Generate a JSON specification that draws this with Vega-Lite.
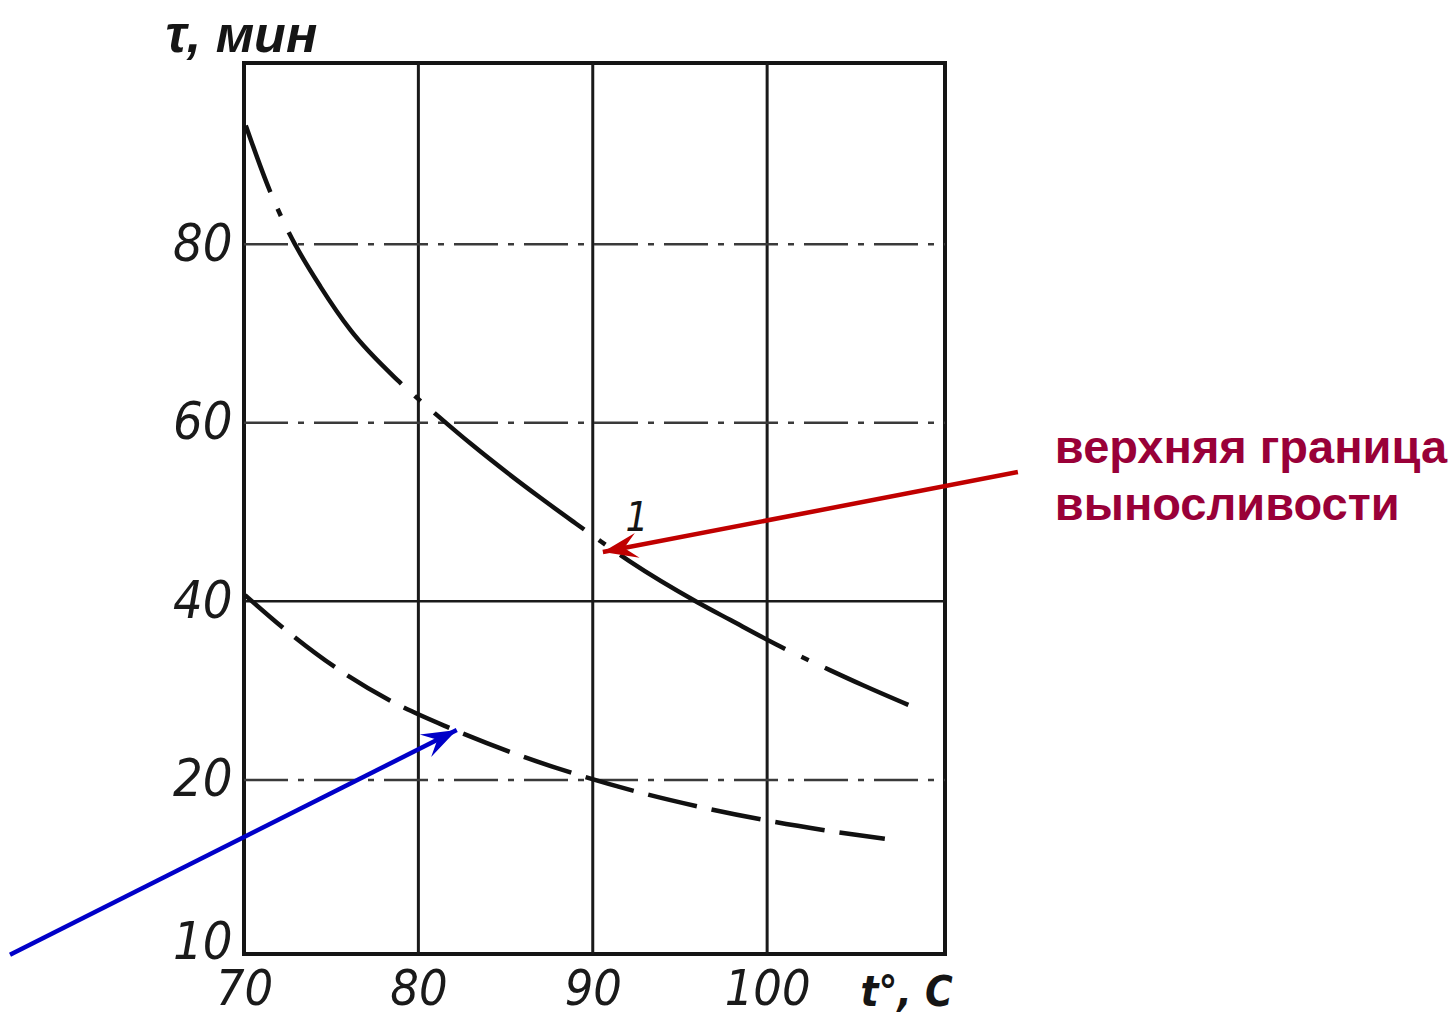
{
  "$schema": "https://vega.github.io/schema/vega-lite/v6.json",
  "width": 701,
  "height": 891,
  "autosize": {"type": "none"},
  "padding": {"left": 244, "top": 63, "right": 511, "bottom": 64},
  "background": "white",
  "config": {
    "view": {"stroke": "#151515", "strokeWidth": 4},
    "font": "DejaVu Sans Condensed, Liberation Sans, sans-serif"
  },
  "datasets": {
    "upper": [
      {"t": 70.1, "tau": 93.3},
      {"t": 71.5, "tau": 85.9},
      {"t": 72.6, "tau": 81.2},
      {"t": 74.4, "tau": 75.2},
      {"t": 76.1, "tau": 70.4},
      {"t": 78.9, "tau": 64.6},
      {"t": 81.1, "tau": 60.8},
      {"t": 83.1, "tau": 57.5},
      {"t": 85.1, "tau": 54.4},
      {"t": 87.0, "tau": 51.6},
      {"t": 88.9, "tau": 48.9},
      {"t": 90.4, "tau": 46.8},
      {"t": 92.1, "tau": 44.5},
      {"t": 96.0, "tau": 39.9},
      {"t": 97.9, "tau": 37.9},
      {"t": 100.7, "tau": 35.0},
      {"t": 103.6, "tau": 32.3},
      {"t": 105.5, "tau": 30.6},
      {"t": 108.1, "tau": 28.4}
    ],
    "lower": [
      {"t": 70.06, "tau": 40.7},
      {"t": 72.45, "tau": 36.7},
      {"t": 75.32, "tau": 32.5},
      {"t": 78.56, "tau": 28.7},
      {"t": 81.81, "tau": 25.8},
      {"t": 85.44, "tau": 23.0},
      {"t": 89.27, "tau": 20.5},
      {"t": 92.88, "tau": 18.5},
      {"t": 96.32, "tau": 16.9},
      {"t": 99.87, "tau": 15.5},
      {"t": 103.2, "tau": 14.4},
      {"t": 106.75, "tau": 13.4}
    ],
    "gridV": [{"t": 80}, {"t": 90}, {"t": 100}],
    "gridDashDot": [{"tau": 20}, {"tau": 60}, {"tau": 80}],
    "gridSolid": [{"tau": 40}],
    "redArrow": [{"t": 114.38, "tau": 54.48, "t2": 90.58, "tau2": 45.52}],
    "blueArrow": [{"t": 56.58, "tau": 0.41, "t2": 82.2, "tau2": 25.59}],
    "note": [
      {"t": 116.5, "tau": 55.5, "text": "верхняя граница"},
      {"t": 116.5, "tau": 49.1, "text": "выносливости"}
    ],
    "curveLabel": [{"t": 92.53, "tau": 49.2, "text": "1"}]
  },
  "layer": [
    {
      "data": {"name": "gridV"},
      "mark": {"type": "rule", "color": "#1a1a1a", "strokeWidth": 3},
      "encoding": {
        "x": {
          "field": "t",
          "type": "quantitative",
          "scale": {"domain": [70, 110.2], "nice": false, "zero": false},
          "axis": {
            "values": [70, 80, 90, 100],
            "title": "t°, C",
            "titleAngle": 0,
            "titleAlign": "left",
            "titleBaseline": "middle",
            "titleX": 616,
            "titleY": 38,
            "titleFont": "DejaVu Sans Condensed, Liberation Sans, sans-serif",
            "titleFontSize": 42,
            "titleFontStyle": "italic",
            "titleFontWeight": "bold",
            "titleColor": "#151515",
            "labelFont": "DejaVu Sans Condensed, Liberation Sans, sans-serif",
            "labelFontSize": 50,
            "labelFontStyle": "italic",
            "labelColor": "#1a1a1a",
            "labelPadding": 10,
            "labelFlush": false,
            "labelOverlap": false,
            "ticks": false,
            "domain": false,
            "grid": false
          }
        },
        "y": {"value": 0},
        "y2": {"value": 891}
      }
    },
    {
      "data": {"name": "gridDashDot"},
      "mark": {"type": "rule", "color": "#3a3a3a", "strokeWidth": 2.5, "strokeDash": [44, 10, 6, 10]},
      "encoding": {
        "y": {
          "field": "tau",
          "type": "quantitative",
          "scale": {"domain": [0.5, 100.3], "nice": false, "zero": false},
          "axis": {
            "values": [1.75, 20, 40, 60, 80],
            "labelExpr": "datum.value < 10 ? '10' : datum.label",
            "title": "τ, мин",
            "titleAngle": 0,
            "titleAlign": "left",
            "titleBaseline": "middle",
            "titleX": -79,
            "titleY": -28,
            "titleFont": "Liberation Sans",
            "titleFontSize": 52,
            "titleFontStyle": "italic",
            "titleFontWeight": "bold",
            "titleColor": "#151515",
            "labelFont": "DejaVu Sans Condensed, Liberation Sans, sans-serif",
            "labelFontSize": 52,
            "labelFontStyle": "italic",
            "labelColor": "#1a1a1a",
            "labelPadding": 12,
            "labelFlush": false,
            "labelOverlap": false,
            "ticks": false,
            "domain": false,
            "grid": false
          }
        },
        "x": {"value": 0},
        "x2": {"value": 701}
      }
    },
    {
      "data": {"name": "gridSolid"},
      "mark": {"type": "rule", "color": "#1a1a1a", "strokeWidth": 2.5},
      "encoding": {
        "y": {"field": "tau", "type": "quantitative"},
        "x": {"value": 0},
        "x2": {"value": 701}
      }
    },
    {
      "data": {"name": "upper"},
      "mark": {"type": "line", "color": "#111111", "strokeWidth": 4.5, "interpolate": "monotone", "strokeDash": [190, 18, 8, 18], "strokeDashOffset": 119, "strokeCap": "butt"},
      "encoding": {
        "x": {"field": "t", "type": "quantitative"},
        "y": {"field": "tau", "type": "quantitative"}
      }
    },
    {
      "data": {"name": "lower"},
      "mark": {"type": "line", "color": "#111111", "strokeWidth": 4.5, "interpolate": "monotone", "strokeDash": [50, 15], "strokeCap": "butt"},
      "encoding": {
        "x": {"field": "t", "type": "quantitative"},
        "y": {"field": "tau", "type": "quantitative"}
      }
    },
    {
      "data": {"name": "curveLabel"},
      "mark": {"type": "text", "font": "DejaVu Sans Condensed, Liberation Sans, sans-serif", "fontStyle": "italic", "fontSize": 40, "color": "#151515", "align": "center", "baseline": "middle"},
      "encoding": {
        "x": {"field": "t", "type": "quantitative"},
        "y": {"field": "tau", "type": "quantitative"},
        "text": {"field": "text"}
      }
    },
    {
      "data": {"name": "redArrow"},
      "mark": {"type": "rule", "color": "#c00000", "strokeWidth": 4.5, "clip": false},
      "encoding": {
        "x": {"field": "t", "type": "quantitative"},
        "y": {"field": "tau", "type": "quantitative"},
        "x2": {"field": "t2"},
        "y2": {"field": "tau2"}
      }
    },
    {
      "data": {"name": "redArrow"},
      "mark": {"type": "point", "shape": "M0,0 L-1,-0.36 L-0.62,0 L-1,0.36 Z", "size": 4900, "filled": true, "color": "#c00000", "opacity": 1, "angle": 169.1, "strokeWidth": 0, "clip": false},
      "encoding": {
        "x": {"field": "t2", "type": "quantitative"},
        "y": {"field": "tau2", "type": "quantitative"}
      }
    },
    {
      "data": {"name": "blueArrow"},
      "mark": {"type": "rule", "color": "#0000c8", "strokeWidth": 4.5, "clip": false},
      "encoding": {
        "x": {"field": "t", "type": "quantitative"},
        "y": {"field": "tau", "type": "quantitative"},
        "x2": {"field": "t2"},
        "y2": {"field": "tau2"}
      }
    },
    {
      "data": {"name": "blueArrow"},
      "mark": {"type": "point", "shape": "M0,0 L-1,-0.36 L-0.62,0 L-1,0.36 Z", "size": 4900, "filled": true, "color": "#0000c8", "opacity": 1, "angle": 333.3, "strokeWidth": 0, "clip": false},
      "encoding": {
        "x": {"field": "t2", "type": "quantitative"},
        "y": {"field": "tau2", "type": "quantitative"}
      }
    },
    {
      "data": {"name": "note"},
      "mark": {"type": "text", "font": "Liberation Sans", "fontWeight": "bold", "fontSize": 47, "color": "#990038", "align": "left", "baseline": "alphabetic", "clip": false},
      "encoding": {
        "x": {"field": "t", "type": "quantitative"},
        "y": {"field": "tau", "type": "quantitative"},
        "text": {"field": "text"}
      }
    }
  ]
}
